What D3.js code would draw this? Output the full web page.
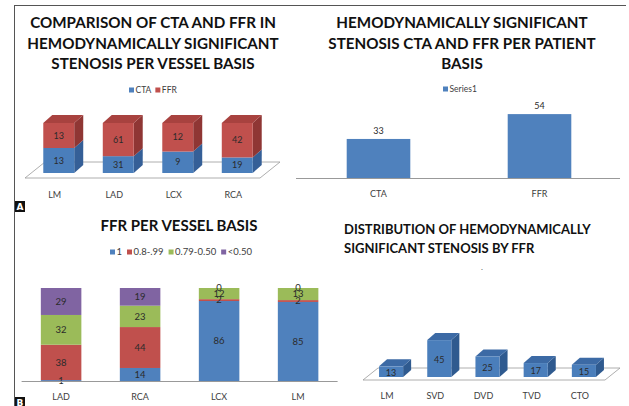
<!DOCTYPE html>
<html>
<head>
<meta charset="utf-8">
<script src="https://cdn.jsdelivr.net/npm/d3@7"></script>
<style>
  body { margin: 0; background: #fff; }
  svg { display: block; }
</style>
</head>
<body>
<div id="chart"></div>
<script>
// Panel A - CTA vs FFR per vessel (100% stacked, 3D)
const vesselCats = ['LM', 'LAD', 'LCX', 'RCA'];
const ctaVessel = [13, 31, 9, 19];
const ffrVessel = [13, 61, 12, 42];

// Panel top right - per patient basis
const patientCats = ['CTA', 'FFR'];
const patientValues = [33, 54];

// Panel B - FFR per vessel basis
const ffrCats = ['LAD', 'RCA', 'LCX', 'LM'];
const ffrKeys = ['1', '0.8-.99', '0.79-0.50', '<0.50'];
const ffrOne = [1, 14, 86, 85];
const ffrHigh = [38, 44, 2, 2];
const ffrMid = [32, 23, 12, 13];
const ffrLow = [29, 19, 0, 0];

// Panel bottom right - distribution by FFR
const distCats = ['LM', 'SVD', 'DVD', 'TVD', 'CTO'];
const distValues = [13, 45, 25, 17, 15];

const W = 629, H = 406;
const titleFont = 'Lato, "Open Sans", sans-serif';
const smallFont = 'Lato, "Open Sans", sans-serif';
const BLUE = '#4f81bd', RED = '#c0504d', GREEN = '#9bbb59', PURPLE = '#8064a2';

const svg = d3.select('#chart')
    .append('svg')
    .attr('width', W)
    .attr('height', H);

// Frame lines
svg.append('line').attr('x1', 14).attr('x2', 626).attr('y1', 5.5).attr('y2', 5.5)
    .attr('stroke', '#555').attr('stroke-width', 1);
svg.append('line').attr('x1', 14.5).attr('x2', 14.5).attr('y1', 5).attr('y2', H)
    .attr('stroke', '#555').attr('stroke-width', 1);

function panelLetter(letter, x, y) {
    svg.append('rect').attr('x', x).attr('y', y).attr('width', 10).attr('height', 11).attr('fill', '#111');
    svg.append('text').attr('x', x + 5).attr('y', y + 5.5).attr('dy', '0.35em')
        .attr('text-anchor', 'middle').style('font-family', 'DejaVu Sans, sans-serif')
        .style('font-size', '9px').style('font-weight', 'bold').style('fill', '#fff').text(letter);
}
panelLetter('A', 15, 201);
panelLetter('B', 15, 397);

function title(lines, x, y0, lh, size, anchor) {
    lines.forEach((t, i) => {
        svg.append('text')
            .attr('x', x).attr('y', y0 + i * lh).attr('dy', '0.35em')
            .attr('text-anchor', anchor || 'middle')
            .style('font-family', titleFont).style('font-weight', '700')
            .style('font-size', size + 'px').style('fill', '#111')
            .text(t);
    });
}

function legend(items, x0, y) {
    let x = x0;
    items.forEach(it => {
        svg.append('rect').attr('x', x).attr('y', y - 2.5).attr('width', 5).attr('height', 5).attr('fill', it.color);
        const t = svg.append('text').attr('x', x + 6.5).attr('y', y).attr('dy', '0.35em')
            .style('font-family', smallFont).style('font-size', it.size + 'px').style('fill', '#404040')
            .text(it.label);
        x += 6.5 + t.node().getComputedTextLength() + it.gap;
    });
}

function catLabels(scale, cats, y, shift) {
    cats.forEach(c => {
        svg.append('text')
            .attr('x', scale(c) + scale.bandwidth() / 2 + (shift || 0))
            .attr('y', y).attr('dy', '0.35em').attr('text-anchor', 'middle')
            .style('font-family', smallFont).style('font-size', '9px').style('fill', '#404040')
            .text(c);
    });
}

function box3d(g, x, y0, y1, w, dx, dy, front, top, side, showTop) {
    // side face
    g.append('path')
        .attr('d', `M${x + w},${y0} L${x + w + dx},${y0 + dy} L${x + w + dx},${y1 + dy} L${x + w},${y1} Z`)
        .attr('fill', side);
    if (showTop) {
        g.append('path')
            .attr('d', `M${x},${y0} L${x + dx},${y0 + dy} L${x + w + dx},${y0 + dy} L${x + w},${y0} Z`)
            .attr('fill', top);
    }
    g.append('rect').attr('x', x).attr('y', y0).attr('width', w).attr('height', y1 - y0).attr('fill', front);
}

function valueLabel(x, y, v, size) {
    svg.append('text').attr('x', x).attr('y', y).attr('dy', '0.35em').attr('text-anchor', 'middle')
        .style('font-family', smallFont).style('font-size', (size || 9) + 'px').style('fill', '#2b2b2b')
        .text(v);
}

// ---------- Panel A ----------
title(['COMPARISON OF CTA AND FFR IN', 'HEMODYNAMICALLY SIGNIFICANT', 'STENOSIS PER VESSEL BASIS'], 153, 23, 20.5, 15.2);
legend([{ label: 'CTA', color: BLUE, size: 8.5, gap: 4 }, { label: 'FFR', color: RED, size: 8.5, gap: 0 }], 129, 90);

const xA = d3.scaleBand().domain(vesselCats).range([29, 267]).paddingInner(0.48).paddingOuter(0.24);
const yA = d3.scaleLinear().domain([0, 1]).range([173, 123]);
const aDx = 9, aDy = -8;
const gA = svg.append('g');
// floor
const fl = xA.range()[0] - 4, fr = xA.range()[1] - 7;
gA.append('path')
    .attr('d', `M${fl},178 L${fr},178 L${fr + 20},162 L${fl + 20},162 Z`)
    .attr('fill', '#fff').attr('stroke', '#999').attr('stroke-width', 0.8);
vesselCats.forEach((c, i) => {
    const tot = ctaVessel[i] + ffrVessel[i];
    const p = ctaVessel[i] / tot;
    const x = xA(c), w = xA.bandwidth();
    box3d(gA, x, yA(p), yA(0), w, aDx, aDy, '#4a7ebb', '#3d6ca6', '#355f97', false);
    box3d(gA, x, yA(1), yA(p), w, aDx, aDy, '#c0504d', '#a8423f', '#8f3634', true);
    valueLabel(x + w / 2, (yA(p) + yA(0)) / 2, ctaVessel[i]);
    valueLabel(x + w / 2, (yA(1) + yA(p)) / 2, ffrVessel[i]);
});
catLabels(xA, vesselCats, 195, -4);

// ---------- Panel top right ----------
title(['HEMODYNAMICALLY SIGNIFICANT', 'STENOSIS CTA AND FFR PER PATIENT', 'BASIS'], 462, 23, 20.5, 15.2);
legend([{ label: 'Series1', color: BLUE, size: 8.5, gap: 0 }], 443, 89);

const xP = d3.scaleBand().domain(patientCats).range([298, 620]).paddingInner(0.605).paddingOuter(0.3025);
const yP = d3.scaleLinear().domain([0, 60]).range([178, 107]);
svg.selectAll('.pbar').data(patientValues).enter().append('rect')
    .attr('class', 'pbar')
    .attr('x', (d, i) => xP(patientCats[i]))
    .attr('y', d => yP(d))
    .attr('width', xP.bandwidth())
    .attr('height', d => yP(0) - yP(d))
    .attr('fill', BLUE);
patientValues.forEach((v, i) => valueLabel(xP(patientCats[i]) + xP.bandwidth() / 2, yP(v) - 8, v));
svg.append('line').attr('x1', xP.range()[0] - 2).attr('x2', xP.range()[1]).attr('y1', yP(0) + 0.5).attr('y2', yP(0) + 0.5)
    .attr('stroke', '#999').attr('stroke-width', 1);
catLabels(xP, patientCats, 194);

// ---------- Panel B ----------
title(['FFR PER VESSEL BASIS'], 179, 226, 20, 15);
legend([
    { label: '1', color: BLUE, size: 9.5, gap: 5 },
    { label: '0.8-.99', color: RED, size: 9.5, gap: 5 },
    { label: '0.79-0.50', color: GREEN, size: 9.5, gap: 5 },
    { label: '<0.50', color: PURPLE, size: 9.5, gap: 0 }
], 110, 252);

const xB = d3.scaleBand().domain(ffrCats).range([21.6, 337.6]).paddingInner(0.487).paddingOuter(0.2435);
const yB = d3.scaleLinear().domain([0, 100]).range([381, 288]);
const stackRows = ffrCats.map((c, i) => ({ cat: c, '1': ffrOne[i], '0.8-.99': ffrHigh[i], '0.79-0.50': ffrMid[i], '<0.50': ffrLow[i] }));
const stacked = d3.stack().keys(ffrKeys)(stackRows);
const colorB = d3.scaleOrdinal().domain(ffrKeys).range([BLUE, RED, GREEN, PURPLE]);
stacked.forEach(layer => {
    svg.append('g').attr('fill', colorB(layer.key))
        .selectAll('rect').data(layer).enter().append('rect')
        .attr('x', d => xB(d.data.cat))
        .attr('y', d => yB(d[1]))
        .attr('width', xB.bandwidth())
        .attr('height', d => yB(d[0]) - yB(d[1]));
});
stacked.forEach(layer => {
    layer.forEach(d => {
        valueLabel(xB(d.data.cat) + xB.bandwidth() / 2, (yB(d[0]) + yB(d[1])) / 2, d.data[layer.key], 9.5);
    });
});
svg.append('line').attr('x1', xB.range()[0]).attr('x2', xB.range()[1]).attr('y1', yB(0) + 0.5).attr('y2', yB(0) + 0.5)
    .attr('stroke', '#999').attr('stroke-width', 1);
catLabels(xB, ffrCats, 397);

// ---------- Panel bottom right ----------
title(['DISTRIBUTION OF HEMODYNAMICALLY', 'SIGNIFICANT STENOSIS BY FFR'], 344, 229, 19.5, 13, 'start');
svg.append('text').attr('x', 482).attr('y', 270).attr('text-anchor', 'middle')
    .style('font-family', smallFont).style('font-size', '8px').style('fill', '#555').text('.');

const xD = d3.scaleBand().domain(distCats).range([367, 608]).paddingInner(0.5).paddingOuter(0.25);
const yD = d3.scaleLinear().domain([0, 50]).range([377, 336]);
const gD = svg.append('g');
const dl = xD.range()[0] - 4, dr = xD.range()[1] - 3;
gD.append('path')
    .attr('d', `M${dl},380 L${dr},380 L${dr + 15},368 L${dl + 15},368 Z`)
    .attr('fill', '#fff').attr('stroke', '#999').attr('stroke-width', 0.8);
distValues.forEach((v, i) => {
    const x = xD(distCats[i]), w = xD.bandwidth();
    box3d(gD, x, yD(v), yD(0), w, 8, -7, '#4a7ebb', '#3c6aa5', '#2f5a8f', true);
    valueLabel(x + w / 2, (yD(v) + yD(0)) / 2 + 1, v);
});
catLabels(xD, distCats, 396, -4);
</script>
</body>
</html>
